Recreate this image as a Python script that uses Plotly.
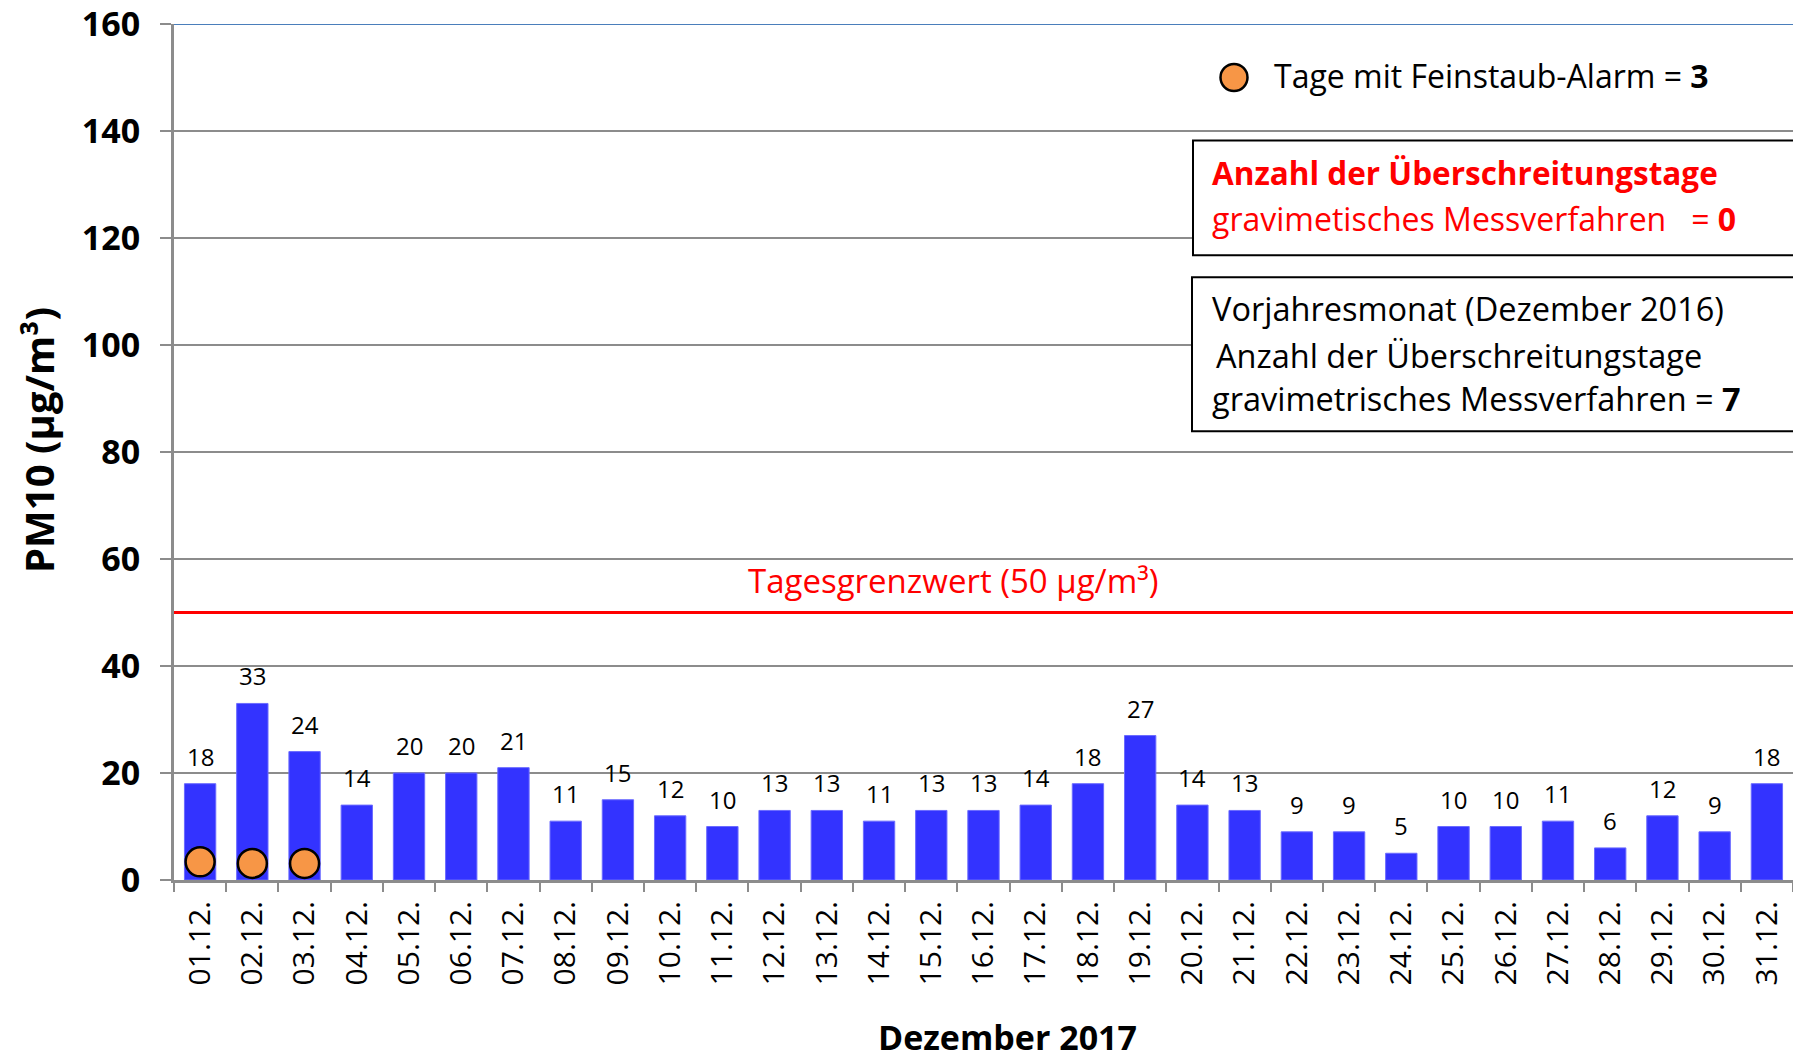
import plotly.graph_objects as go

days = ["01.12.", "02.12.", "03.12.", "04.12.", "05.12.", "06.12.", "07.12.", "08.12.",
        "09.12.", "10.12.", "11.12.", "12.12.", "13.12.", "14.12.", "15.12.", "16.12.",
        "17.12.", "18.12.", "19.12.", "20.12.", "21.12.", "22.12.", "23.12.", "24.12.",
        "25.12.", "26.12.", "27.12.", "28.12.", "29.12.", "30.12.", "31.12."]
pm10 = [18, 33, 24, 14, 20, 20, 21, 11, 15, 12, 10, 13, 13, 11, 13, 13,
        14, 18, 27, 14, 13, 9, 9, 5, 10, 10, 11, 6, 12, 9, 18]
alarm_days = ["01.12.", "02.12.", "03.12."]
alarm_level = [3.4, 3.1, 3.1]
limit_value = 50
y_ticks = [0, 20, 40, 60, 80, 100, 120, 140, 160]

FONT = "Open Sans"
W, H = 1793, 1063
L, T, B = 174, 23.5, 183
plot_w = W - L
plot_h = H - T - B


def px_x(x):
    return (x - L) / plot_w


def px_y(y):
    return (H - B - y) / plot_h


fig = go.Figure()
fig.add_trace(go.Bar(
    x=days, y=pm10, marker=dict(color="#3333FF", line=dict(color="#6b6bff", width=1)),
    width=0.6, showlegend=False, hoverinfo="x+y"))
fig.add_trace(go.Scatter(
    x=alarm_days, y=alarm_level, mode="markers", showlegend=False,
    marker=dict(size=29, color="#F79646", line=dict(color="black", width=2.5))))

annotations = []
for d, v in zip(days, pm10):
    annotations.append(dict(x=d, y=v, xref="x", yref="y", text=str(v), showarrow=False,
                            yanchor="bottom", yshift=9,
                            font=dict(family=FONT, size=24, color="black")))

annotations.append(dict(x=px_x(953), y=limit_value, xref="paper", yref="y",
                        text="Tagesgrenzwert (50 µg/m³)", showarrow=False,
                        yanchor="bottom", yshift=8,
                        font=dict(family=FONT, size=33, color="#FF0000")))

# y-axis title and x-axis title
annotations.append(dict(x=0, y=0.5, xref="paper", yref="paper", xshift=-136,
                        yshift=12,
                        text="<b>PM10 (µg/m³)</b>", textangle=-90, showarrow=False,
                        xanchor="center", yanchor="middle",
                        font=dict(family=FONT, size=40, color="black")))
annotations.append(dict(x=px_x(1008), y=0, xref="paper", yref="paper", yshift=-157,
                        text="<b>Dezember 2017</b>", showarrow=False,
                        xanchor="center", yanchor="middle",
                        font=dict(family=FONT, size=34, color="black")))

# legend-like text
annotations.append(dict(x=px_x(1272), y=px_y(75), xref="paper", yref="paper",
                        text="Tage mit Feinstaub-Alarm = <b>3</b>", showarrow=False,
                        xanchor="left", yanchor="middle",
                        font=dict(family=FONT, size=32, color="black")))

# box texts
box_lines = [
    (1210, 172, "<b>Anzahl der Überschreitungstage</b>", "#FF0000", 31.5),
    (1210, 218, "gravimetisches Messverfahren   = <b>0</b>", "#FF0000", 32),
    (1210, 308, "Vorjahresmonat (Dezember 2016)", "black", 32.5),
    (1214, 355, "Anzahl der Überschreitungstage", "black", 32.5),
    (1210, 398, "gravimetrisches Messverfahren = <b>7</b>", "black", 32.5),
]
for xp, yp, txt, col, sz in box_lines:
    annotations.append(dict(x=px_x(xp), y=px_y(yp), xref="paper", yref="paper",
                            text=txt, showarrow=False, xanchor="left", yanchor="middle",
                            font=dict(family=FONT, size=sz, color=col)))

shapes = [
    dict(type="line", xref="paper", yref="y", x0=0, x1=1, y0=160, y1=160,
         line=dict(color="#4A7EBB", width=2), layer="above"),
    dict(type="line", xref="paper", yref="y", x0=0, x1=1, y0=limit_value, y1=limit_value,
         line=dict(color="#FF0000", width=3), layer="above"),
    dict(type="rect", xref="paper", yref="paper", x0=px_x(1193), x1=1.05,
         y0=px_y(255), y1=px_y(140), line=dict(color="black", width=2),
         fillcolor="white", layer="above"),
    dict(type="rect", xref="paper", yref="paper", x0=px_x(1192), x1=1.05,
         y0=px_y(431), y1=px_y(277), line=dict(color="black", width=2),
         fillcolor="white", layer="above"),
    dict(type="circle", xref="paper", yref="paper", xsizemode="pixel", ysizemode="pixel",
         xanchor=px_x(1234), yanchor=px_y(77), x0=-13.5, x1=13.5, y0=-13.5, y1=13.5,
         fillcolor="#F79646", line=dict(color="black", width=2.5), layer="above"),
]

fig.update_layout(
    width=W, height=H,
    margin=dict(l=L, r=0, t=T, b=B, pad=0),
    plot_bgcolor="white", paper_bgcolor="white",
    bargap=0.4,
    annotations=annotations, shapes=shapes,
    xaxis=dict(type="category", tickangle=-90, tickson="boundaries", ticks="outside",
               ticklen=9, tickwidth=2, tickcolor="#8C8C8C", showline=True,
               linecolor="#8C8C8C", linewidth=3, showgrid=False,
               tickfont=dict(family=FONT, size=30, color="black"),
               ticklabelstandoff=6, range=[-0.5, 30.5]),
    yaxis=dict(range=[0, 160], tickvals=y_ticks, ticks="outside", ticklen=11, tickwidth=2,
               tickcolor="#8C8C8C", showline=True, linecolor="#8C8C8C", linewidth=3,
               showgrid=True, gridcolor="#8C8C8C", gridwidth=2, zeroline=False,
               tickfont=dict(family=FONT, size=34, color="black", weight="bold"),
               ticklabelstandoff=13, ticklabeloverflow="allow"),
)

fig.write_html("out.html", config={"displayModeBar": False},
               post_script="document.body.style.margin='0';")
